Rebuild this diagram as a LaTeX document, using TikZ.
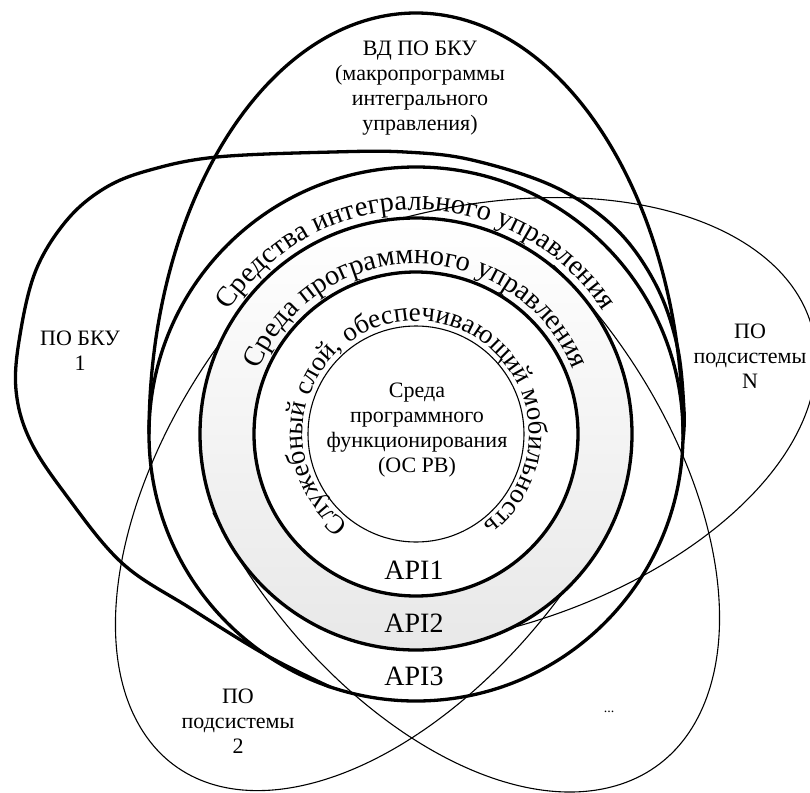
\documentclass[tikz,border=0pt]{standalone}
\usepackage{fontspec}
\setmainfont{Liberation Serif}
\usetikzlibrary{calc, decorations.text}

\tikzset{
  thickline/.style={line width=3.3pt},
  thinline/.style={line width=1.1pt},
  lbl/.style={align=center, inner sep=0pt, font=\fontsize{22}{25}\selectfont},
  apilbl/.style={anchor=base, inner sep=0pt, font=\fontsize{28}{28}\selectfont},
  ringtext/.style={decorate, decoration={text along path, text align=center, text={#1}}}
}

\begin{document}
\begin{tikzpicture}[x=1pt, y=1pt]
    \useasboundingbox (0,0) rectangle (810,-792);
    \coordinate (O) at (416,-434);

    % thin petals: PO N, PO 2, ...
    \foreach \ang/\rb in {15/212, -126/212, -54/218}{
      \begin{scope}[shift={(O)}, rotate=\ang]
        \draw[thinline] (40,0) ++(-105:370 and \rb) arc[start angle=-105, end angle=105, x radius=370, y radius=\rb];
      \end{scope}
    }
    % thick petals: VD and PO BKU 1
    \draw[thickline] (O) ++(180:267 and 421) arc[start angle=180, end angle=0, x radius=267, y radius=421];
    \draw[thickline] plot[smooth, tension=0.6] coordinates {(330,-687) (266,-655) (190,-608) (122,-563) (66,-495) (30,-440) (16,-390) (20,-335) (36,-270) (67,-220) (105,-188) (150,-170) (217,-157) (333,-152) (405,-152) (472,-160) (555,-187) (615,-228) (655,-283) (677,-345) (684,-410) (683,-440)};

    % core rings
    \fill[white] (O) circle (216);
    \shade[even odd rule, top color=white, bottom color=black!9] (O) circle (216) (O) circle (162);
    \draw[thickline] (O) circle (267);
    \draw[thickline] (O) circle (216);
    \draw[thickline] (O) circle (162);
    \draw[thinline] (O) circle (108);

    % ring texts
    \path[ringtext={|\fontsize{28.5}{28.5}\selectfont|Средства интегрального управления}] (O) ++(180:224) arc[start angle=180, end angle=0, radius=224];
    \path[ringtext={|\fontsize{28.5}{28.5}\selectfont|Среда программного управления}] (O) ++(180:170) arc[start angle=180, end angle=0, radius=170];
    \path[ringtext={|\fontsize{27}{27}\selectfont|Служебный слой, обеспечивающий мобильность}] (O) ++(270:113) arc[start angle=270, end angle=-90, radius=113];

    % labels
    \node[lbl] (vd) at (420,-88) {ВД ПО БКУ\\(макропрограммы\\интегрального\\управления)};
    \node[lbl] (bku) at (80,-351) {ПО БКУ\\1};
    \node[lbl] (posN) at (750,-356) {ПО\\подсистемы\\N};
    \node[lbl] (pos2) at (238,-721) {ПО\\подсистемы\\2};
    \node[inner sep=0pt, font=\fontsize{14}{14}\selectfont] (etc) at (609,-712) {...};
    \node[lbl] (core) at (417,-430) {Среда\\программного\\функционирования\\(ОС РВ)};
    \node[apilbl] (api1) at (414,-579) {API1};
    \node[apilbl] (api2) at (414,-632) {API2};
    \node[apilbl] (api3) at (414,-685) {API3};
\end{tikzpicture}
\end{document}
